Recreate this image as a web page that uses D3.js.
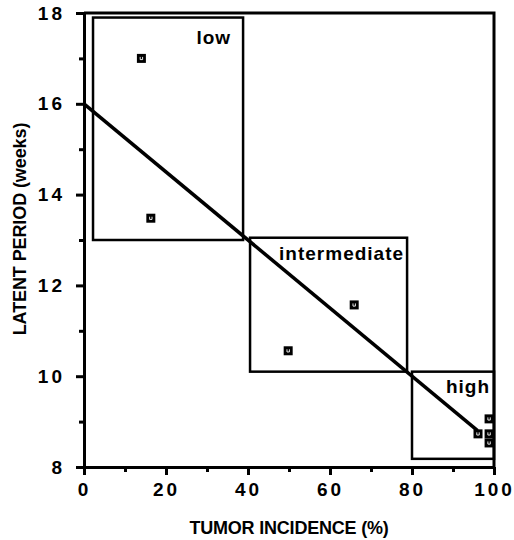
<!DOCTYPE html>
<html>
<head>
<meta charset="utf-8">
<script src="https://cdn.jsdelivr.net/npm/d3@7"></script>
<style>
  body { margin: 0; background: #fff; }
  svg { display: block; }
  text { font-family: "Liberation Sans", Arial, Helvetica, sans-serif; fill: #000; }
</style>
</head>
<body>
<svg width="514" height="540"></svg>
<script>
// Data
const incidence = [14, 16.3, 49.8, 65.9, 98.8, 96.1, 98.8, 98.8];   // tumor incidence (%)
const latency   = [17.0, 13.48, 10.56, 11.57, 9.06, 8.73, 8.73, 8.53]; // latent period (weeks)

// group boxes
const groupNames = ["low", "intermediate", "high"];
const groupX0 = [2.2, 40.5, 80];
const groupX1 = [38.8, 78.8, 100];
const groupY0 = [13.0, 10.1, 8.18];
const groupY1 = [17.9, 13.05, 10.1];

// fitted line endpoints
const fitX = [0, 96];
const fitY = [16, 8.8];

const xTicks = [0, 20, 40, 60, 80, 100];
const xMinor = [10, 30, 50, 70, 90];
const yTicks = [8, 10, 12, 14, 16, 18];
const yMinor = [9, 11, 13, 15, 17];

const svg = d3.select("svg");
const plot = { left: 84, right: 494, top: 13, bottom: 467 };

const x = d3.scaleLinear().domain([0, 100]).range([plot.left, plot.right]);
const y = d3.scaleLinear().domain([8, 18]).range([plot.bottom, plot.top]);

// frame top/right
svg.append("path")
    .attr("d", `M${x(0)},${y(18)}H${x(100)}V${y(8)}`)
    .attr("fill", "none")
    .attr("stroke", "#000")
    .attr("stroke-width", 3);

// minor ticks
svg.append("g")
    .attr("transform", `translate(0,${plot.bottom})`)
    .call(d3.axisBottom(x).tickValues(xMinor).tickSize(5).tickFormat(""))
    .call(g => g.select(".domain").remove())
    .selectAll("line").attr("stroke-width", 3);
svg.append("g")
    .attr("transform", `translate(${plot.left},0)`)
    .call(d3.axisLeft(y).tickValues(yMinor).tickSize(5).tickFormat(""))
    .call(g => g.select(".domain").remove())
    .selectAll("line").attr("stroke-width", 3);

// major axes
const xAxis = svg.append("g")
    .attr("transform", `translate(0,${plot.bottom})`)
    .call(d3.axisBottom(x).tickValues(xTicks).tickSize(8).tickSizeOuter(0).tickPadding(8));
const yAxis = svg.append("g")
    .attr("transform", `translate(${plot.left},0)`)
    .call(d3.axisLeft(y).tickValues(yTicks).tickSize(8).tickSizeOuter(0).tickPadding(11));

[xAxis, yAxis].forEach(a => {
    a.select(".domain").attr("stroke-width", 3);
    a.selectAll("line").attr("stroke-width", 3);
    a.selectAll("text")
        .attr("font-size", 19)
        .attr("font-weight", "bold")
        .attr("letter-spacing", 3)
        .style("font-family", "'Liberation Sans', Arial, sans-serif");
});

// group boxes
svg.selectAll(".box")
    .data(groupNames)
    .enter().append("rect")
    .attr("class", "box")
    .attr("x", (d, i) => x(groupX0[i]))
    .attr("y", (d, i) => y(groupY1[i]))
    .attr("width", (d, i) => x(groupX1[i]) - x(groupX0[i]))
    .attr("height", (d, i) => y(groupY0[i]) - y(groupY1[i]))
    .attr("fill", "none")
    .attr("stroke", "#000")
    .attr("stroke-width", 2.5);

// group labels
const labelDx = [-12, -3, -4];
const labelDy = [26, 22, 21];
svg.selectAll(".glabel")
    .data(groupNames)
    .enter().append("text")
    .attr("class", "glabel")
    .attr("x", (d, i) => x(groupX1[i]) + labelDx[i])
    .attr("y", (d, i) => y(groupY1[i]) + labelDy[i])
    .attr("text-anchor", "end")
    .attr("font-size", 19)
    .attr("font-weight", "bold")
    .attr("letter-spacing", 1)
    .text(d => d);

// fitted line
svg.append("line")
    .attr("x1", x(fitX[0])).attr("y1", y(fitY[0]))
    .attr("x2", x(fitX[1])).attr("y2", y(fitY[1]))
    .attr("stroke", "#000")
    .attr("stroke-width", 3.5);

// points: black squares with a tiny white mark
const pts = svg.selectAll(".pt")
    .data(incidence)
    .enter().append("g")
    .attr("class", "pt")
    .attr("transform", (d, i) => `translate(${x(d)},${y(latency[i])})`);
pts.append("rect")
    .attr("x", -4.5).attr("y", -4.5)
    .attr("width", 9).attr("height", 9)
    .attr("fill", "#000");
pts.append("path")
    .attr("d", "M-1.2,-1.5V1.2H1.2V-1.5")
    .attr("fill", "none")
    .attr("stroke", "#fff")
    .attr("stroke-width", 0.9);

// axis titles
svg.append("text")
    .attr("x", (plot.left + plot.right) / 2)
    .attr("y", 534)
    .attr("text-anchor", "middle")
    .attr("font-size", 18)
    .attr("font-weight", "bold")
    .attr("letter-spacing", -0.2)
    .text("TUMOR INCIDENCE (%)");

svg.append("text")
    .attr("transform", `translate(26,229) rotate(-90)`)
    .attr("text-anchor", "middle")
    .attr("font-size", 18)
    .attr("font-weight", "bold")
    .attr("letter-spacing", -0.1)
    .text("LATENT PERIOD (weeks)");
</script>
</body>
</html>
